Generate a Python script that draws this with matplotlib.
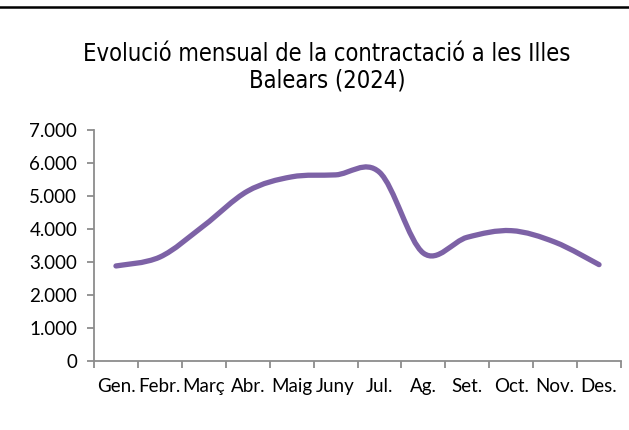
import numpy as np
import matplotlib
matplotlib.use("Agg")
import matplotlib.pyplot as plt
from matplotlib.path import Path
from matplotlib.patches import PathPatch
from matplotlib.lines import Line2D

# monthly contracts, Balearic Islands 2024
months = ["Gen.", "Febr.", "Març", "Abr.", "Maig", "Juny", "Jul.", "Ag.", "Set.", "Oct.", "Nov.", "Des."]
contracts = [2880, 3150, 4100, 5150, 5580, 5640, 5720, 3270, 3750, 3950, 3600, 2920]
yticks = [0, 1000, 2000, 3000, 4000, 5000, 6000, 7000]
ytick_labels = ["0", "1.000", "2.000", "3.000", "4.000", "5.000", "6.000", "7.000"]

plt.rcParams['font.family'] = ['Lato', 'DejaVu Sans']

fig = plt.figure(figsize=(6.29, 4.30), dpi=100)
ax = fig.add_axes([94/629, 1-361/430, (621-94)/629, (361-130)/430])

# smoothed line like the spreadsheet "smooth line" option (bezier through the points)
x = np.arange(len(contracts), dtype=float)
y = np.array(contracts, dtype=float)
verts = [(x[0], y[0])]
codes = [Path.MOVETO]
n = len(x)
for i in range(n-1):
	p0 = np.array([x[max(i-1, 0)], y[max(i-1, 0)]])
	p1 = np.array([x[i], y[i]])
	p2 = np.array([x[i+1], y[i+1]])
	p3 = np.array([x[min(i+2, n-1)], y[min(i+2, n-1)]])
	c1 = p1 + (p2 - p0) / 6
	c2 = p2 - (p3 - p1) / 6
	verts += [tuple(c1), tuple(c2), tuple(p2)]
	codes += [Path.CURVE4] * 3
patch = PathPatch(Path(verts, codes), facecolor="none", edgecolor="#7D62A6", lw=3.8, capstyle="round", joinstyle="round")
ax.add_patch(patch)

ax.set_xlim(-0.5, n-0.5)
ax.set_ylim(0, 7000)

ax.set_xticks(np.arange(-0.5, n, 1.0))
ax.set_xticklabels([])
ax.set_xticks(x, minor=True)
ax.set_xticklabels(months, minor=True)
ax.tick_params(axis="x", which="major", length=5, width=1.3, color="#8c8c8c")
ax.tick_params(axis="x", which="minor", length=0, pad=12, labelsize=13.5)

ax.set_yticks(yticks)
ax.set_yticklabels(ytick_labels)
ax.tick_params(axis="y", length=5, width=1.3, color="#8c8c8c", labelsize=13.5, pad=7)

for s in ["top", "right"]:
	ax.spines[s].set_visible(False)
for s in ["left", "bottom"]:
	ax.spines[s].set_color("#8c8c8c")
	ax.spines[s].set_linewidth(1.3)

fig.text(327/629, 1-67/430, "Evolució mensual de la contractació a les Illes\nBalears (2024)",
	ha="center", va="center", fontsize=17, linespacing=1.15, family="DejaVu Sans", fontstretch="condensed")

# black rule at the top
fig.add_artist(Line2D([0, 1], [1-7/430, 1-7/430], color="black", lw=1.8, transform=fig.transFigure))

fig.savefig("out.png", dpi=100)
